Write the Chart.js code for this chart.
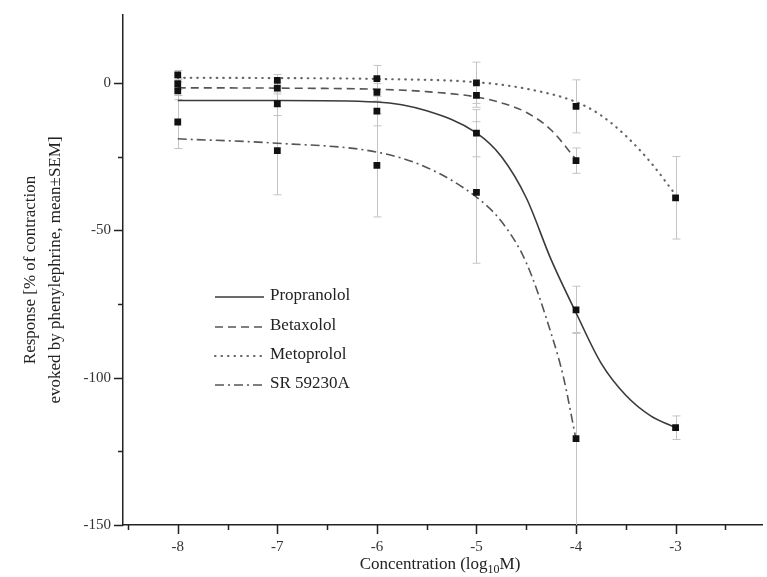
<!DOCTYPE html>
<html>
<head>
<meta charset="utf-8">
<script src="https://cdn.jsdelivr.net/npm/chart.js@4.4.1/dist/chart.umd.min.js"></script>
<style>
  html, body { margin: 0; padding: 0; background: #fff; }
  #wrap { width: 767px; height: 577px; }
</style>
</head>
<body>
<div id="wrap"><canvas id="chart" width="767" height="577"></canvas></div>
<script>
// ── Data ───────────────────────────────────────────────────
const conc = [-8, -7, -6, -5, -4, -3];

const propMean = [-2.7, -7.1, -9.6, -17.1, -77, -117];
const propSem  = [3, 4, 5, 8, 8, 4];
const betaMean = [-0.3, -1.8, -3.2, -4.3, -26.4];
const betaSem  = [2, 2, 3, 4, 4.3];
const metoMean = [2.7, 0.8, 1.4, 0, -8, -39];
const metoSem  = [1.5, 2, 4.5, 7, 9, 14];
const srMean   = [-13.3, -23, -28, -37.2, -120.7];
const srSem    = [9, 15, 17.5, 24, 36];

// fitted curves
const propFitX = [-8, -7, -6, -5.5, -5, -4.75, -4.5, -4.25, -4, -3.75, -3.5, -3.25, -3];
const propFitY = [-6, -6, -6.5, -9.5, -17, -25, -39, -60, -78, -95, -106, -113, -117];
const betaFitX = [-8, -7, -6, -5.5, -5, -4.75, -4.5, -4.25, -4];
const betaFitY = [-1.7, -1.8, -2.2, -3, -4.8, -6.8, -10, -16, -26];
const metoFitX = [-8, -7, -6, -5, -4.5, -4, -3.75, -3.5, -3.25, -3];
const metoFitY = [1.7, 1.6, 1.3, 0.2, -2, -6.5, -11, -18, -27, -38];
const srFitX   = [-8, -7, -6, -5.5, -5, -4.75, -4.5, -4.25, -4.125, -4];
const srFitY   = [-19, -20.5, -23.5, -28.7, -38.8, -47, -61, -85, -100, -121];

const xTicksMajor = [-8, -7, -6, -5, -4, -3];
const yTicksMajor = [0, -50, -100, -150];

const seriesNames = ["Propranolol", "Betaxolol", "Metoprolol", "SR 59230A"];

// ── Helpers ───────────────────────────────────────────────
const SERIF = "'Liberation Serif', 'Times New Roman', serif";
const pts = (xs, ys) => ys.map((y, i) => ({ x: xs[i], y }));

const styles = [
  { color: "#3a3a3a", dash: [], width: 1.6, cap: "butt" },
  { color: "#555", dash: [8, 5], width: 1.6, cap: "butt" },
  { color: "#666", dash: [0.5, 6], width: 2.2, cap: "round" },
  { color: "#555", dash: [9, 4, 2, 4], width: 1.6, cap: "butt" },
];

function fitDataset(xs, ys, st) {
  return {
    type: "scatter",
    data: pts(xs, ys),
    showLine: true,
    borderColor: st.color,
    borderWidth: st.width,
    borderDash: st.dash,
    borderCapStyle: st.cap,
    cubicInterpolationMode: "monotone",
    pointRadius: 0,
    fill: false,
    order: 2,
  };
}

function markerDataset(means, sems) {
  return {
    type: "scatter",
    data: means.map((m, i) => ({ x: conc[i], y: m, sem: sems[i] })),
    pointStyle: "rect",
    pointRadius: 4.8,
    pointBackgroundColor: "#111",
    pointBorderColor: "#111",
    pointBorderWidth: 0,
    showLine: false,
    order: 1,
  };
}

// ── Error bars, drawn behind the markers ─────────────────
const errorBars = {
  id: "errorBars",
  beforeDatasetsDraw(chart) {
    const { ctx, chartArea, scales } = chart;
    ctx.save();
    ctx.beginPath();
    ctx.rect(chartArea.left, chartArea.top, chartArea.width, chartArea.height);
    ctx.clip();
    ctx.strokeStyle = "#c4c4c4";
    ctx.lineWidth = 1;
    chart.data.datasets.forEach((ds) => {
      ds.data.forEach((p) => {
        if (p.sem === undefined) return;
        const x = Math.round(scales.x.getPixelForValue(p.x)) + 0.5;
        const y1 = scales.y.getPixelForValue(p.y + p.sem);
        const y2 = scales.y.getPixelForValue(p.y - p.sem);
        ctx.beginPath();
        ctx.moveTo(x, y1); ctx.lineTo(x, y2);
        ctx.moveTo(x - 4, y1); ctx.lineTo(x + 4, y1);
        ctx.moveTo(x - 4, y2); ctx.lineTo(x + 4, y2);
        ctx.stroke();
      });
    });
    ctx.restore();
  },
};

// ── Outward tick marks: long majors, short minors ────────
const tickMarks = {
  id: "tickMarks",
  afterDraw(chart) {
    const { ctx, chartArea, scales } = chart;
    ctx.save();
    ctx.strokeStyle = "#222";
    ctx.lineWidth = 1.5;
    ctx.beginPath();
    scales.x.ticks.forEach((t) => {
      const x = Math.round(scales.x.getPixelForValue(t.value)) + 0.5;
      const len = xTicksMajor.includes(t.value) ? 9 : 5;
      ctx.moveTo(x, chartArea.bottom);
      ctx.lineTo(x, chartArea.bottom + len);
    });
    scales.y.ticks.forEach((t) => {
      const y = Math.round(scales.y.getPixelForValue(t.value)) + 0.5;
      const len = yTicksMajor.includes(t.value) ? 9 : 5;
      ctx.moveTo(chartArea.left, y);
      ctx.lineTo(chartArea.left - len, y);
    });
    ctx.stroke();
    ctx.restore();
  },
};

// ── Titles and legend ────────────────────────────────────
const decorations = {
  id: "decorations",
  afterDraw(chart) {
    const { ctx, chartArea } = chart;
    ctx.save();
    ctx.fillStyle = "#222";

    // y title (two lines, rotated)
    ctx.font = `17px ${SERIF}`;
    ctx.textAlign = "center";
    ctx.textBaseline = "middle";
    const cy = (chartArea.top + chartArea.bottom) / 2;
    ctx.save();
    ctx.translate(31, cy);
    ctx.rotate(-Math.PI / 2);
    ctx.fillText("Response [% of contraction", 0, 0);
    ctx.restore();
    ctx.save();
    ctx.translate(56, cy);
    ctx.rotate(-Math.PI / 2);
    ctx.fillText("evoked by phenylephrine, mean\u00B1SEM]", 0, 0);
    ctx.restore();

    // x title with subscript
    const a = "Concentration (log", sub = "10", b = "M)";
    ctx.font = `17px ${SERIF}`;
    const wa = ctx.measureText(a).width, wb = ctx.measureText(b).width;
    ctx.font = `12px ${SERIF}`;
    const ws = ctx.measureText(sub).width;
    let x = 440 - (wa + ws + wb) / 2;
    const base = 569;
    ctx.textAlign = "left";
    ctx.textBaseline = "alphabetic";
    ctx.font = `17px ${SERIF}`;
    ctx.fillText(a, x, base); x += wa;
    ctx.font = `12px ${SERIF}`;
    ctx.fillText(sub, x, base + 4); x += ws;
    ctx.font = `17px ${SERIF}`;
    ctx.fillText(b, x, base);

    // legend
    const rows = [296, 326, 355, 384];
    ctx.font = `17px ${SERIF}`;
    ctx.textBaseline = "middle";
    rows.forEach((ry, i) => {
      const st = styles[i];
      ctx.save();
      ctx.strokeStyle = st.color;
      ctx.lineWidth = st.width;
      ctx.setLineDash(st.dash);
      ctx.lineCap = st.cap;
      ctx.beginPath();
      ctx.moveTo(215, ry + 1);
      ctx.lineTo(264, ry + 1);
      ctx.stroke();
      ctx.restore();
      ctx.fillStyle = "#222";
      ctx.fillText(seriesNames[i], 270, ry);
    });
    ctx.restore();
  },
};

// ── Chart ────────────────────────────────────────────────
const axisFont = { family: SERIF, size: 15 };

new Chart(document.getElementById("chart"), {
  type: "scatter",
  data: {
    datasets: [
      fitDataset(propFitX, propFitY, styles[0]),
      fitDataset(betaFitX, betaFitY, styles[1]),
      fitDataset(metoFitX, metoFitY, styles[2]),
      fitDataset(srFitX, srFitY, styles[3]),
      markerDataset(propMean, propSem),
      markerDataset(betaMean, betaSem),
      markerDataset(metoMean, metoSem),
      markerDataset(srMean, srSem),
    ],
  },
  options: {
    responsive: false,
    animation: false,
    devicePixelRatio: 1,
    layout: { padding: { top: 15, right: 0, left: 0, bottom: 0 } },
    plugins: { legend: { display: false }, tooltip: { enabled: false } },
    scales: {
      x: {
        type: "linear",
        min: -8.55,
        max: -2.13,
        border: { color: "#222", width: 1.5 },
        grid: { display: false, drawTicks: false },
        ticks: {
          stepSize: 0.5,
          includeBounds: false,
          autoSkip: false,
          maxRotation: 0,
          padding: 13,
          color: "#333",
          font: axisFont,
          callback: (v) => (xTicksMajor.includes(v) ? String(v) : ""),
        },
        afterFit: (s) => { s.height = 52; s.paddingLeft = 0; s.paddingRight = 0; },
      },
      y: {
        type: "linear",
        min: -150,
        max: 23,
        border: { color: "#222", width: 1.5 },
        grid: { display: false, drawTicks: false },
        ticks: {
          stepSize: 25,
          includeBounds: false,
          autoSkip: false,
          padding: 12,
          color: "#333",
          font: axisFont,
          callback: (v) => (yTicksMajor.includes(v) ? String(v) : ""),
        },
        afterFit: (s) => { s.width = 123; s.paddingTop = 0; s.paddingBottom = 0; },
      },
    },
  },
  plugins: [errorBars, tickMarks, decorations],
});
</script>
</body>
</html>
